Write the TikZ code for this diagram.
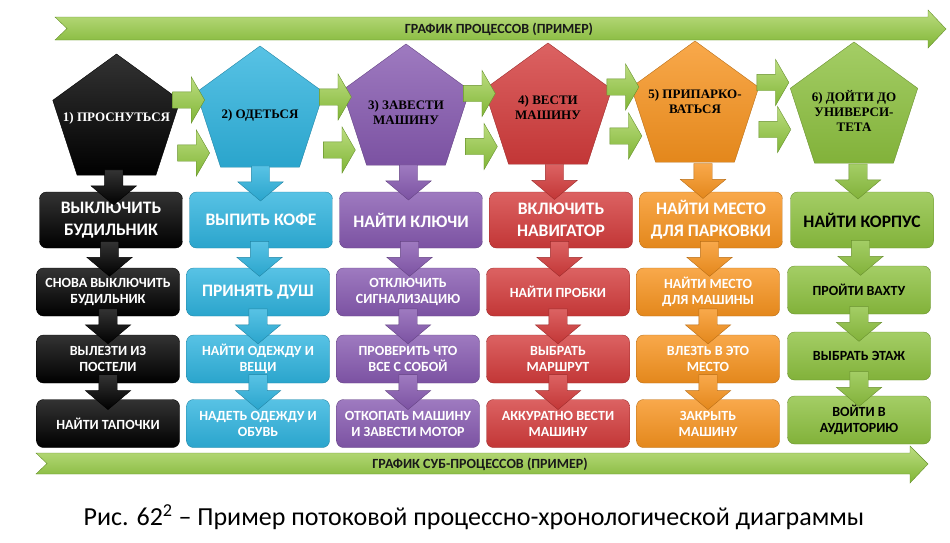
\documentclass[tikz,border=0pt]{standalone}
\usepackage{fontspec}
\setmainfont{Carlito}
\newfontfamily\pentafont{Liberation Serif}
\usetikzlibrary{shapes.geometric,shapes.arrows,calc}

\definecolor{cblk}{HTML}{000000}
\definecolor{cblu}{HTML}{2EB3DE}
\definecolor{cvio}{HTML}{8659B0}
\definecolor{cred}{HTML}{D33B3B}
\definecolor{corg}{HTML}{F7931E}
\definecolor{cgrn}{HTML}{8DC13F}
\definecolor{grnlt}{HTML}{BCDD80}
\definecolor{grndk}{HTML}{80B536}

\begin{document}
\begin{tikzpicture}[x=1pt,y=-1pt,
   penta/.style={regular polygon,regular polygon sides=5,minimum size=134pt,inner sep=0pt,
      top color=#1!80!white,bottom color=#1!92!black,draw=#1!75!black},
   ptext/.style={font=\pentafont\bfseries\fontsize{13}{15}\selectfont,align=center},
   box/.style={rounded corners=7pt,minimum width=143pt,minimum height=48pt,inner sep=1pt,
      top color=#1!80!white,bottom color=#1!92!black,draw=#1!75!black,text=white,
      font=\bfseries\fontsize{14}{16}\selectfont,align=center},
   big/.style={font=\bfseries\fontsize{17.5}{22}\selectfont},
   tall/.style={minimum height=56pt},
   darr/.style={single arrow,shape border rotate=270,minimum height=35pt,inner sep=9pt,
      single arrow head extend=13.5pt,single arrow tip angle=100,
      top color=#1!80!white,bottom color=#1!92!black,draw=#1!75!black},
   rarr/.style={single arrow,minimum height=32pt,inner sep=8pt,
      single arrow head extend=15pt,single arrow tip angle=120,
      top color=grnlt,bottom color=grndk,draw=grndk!80!black},
   band/.style={top color=grnlt,bottom color=grndk,draw=grndk!80!black},
   bandtext/.style={font=\bfseries\fontsize{14}{16}\selectfont,text=black!90}]
   \useasboundingbox (0,0) rectangle (950,542);

   % time bands
   \draw[band] (55,17) -- (928,17) -- (928,10) -- (946,29) -- (928,48) -- (928,40)
      -- (55,40) -- (67,28.5) -- cycle;
   \draw[band] (36,453) -- (910,453) -- (910,446) -- (928,464) -- (910,483) -- (910,474)
      -- (36,474) -- (47,463.5) -- cycle;
   \node[bandtext] (topband) at (499,29) {ГРАФИК ПРОЦЕССОВ (ПРИМЕР)};
   \node[bandtext] (subband) at (480,464) {ГРАФИК СУБ-ПРОЦЕССОВ (ПРИМЕР)};

   % processes
   \node[penta=cblk] (p1) at (116.5,121) {};
   \node[penta=cblu] (p2) at (260,113) {};
   \node[penta=cvio] (p3) at (406,111) {};
   \node[penta=cred] (p4) at (548,110) {};
   \node[penta=corg] (p5) at (695,108) {};
   \node[penta=cgrn] (p6) at (854,109) {};
   \node[ptext,text=white] (l1) at ($(p1)+(0,-3)$) {1) ПРОСНУТЬСЯ};
   \node[ptext] (l2) at ($(p2)+(0,2)$) {2) ОДЕТЬСЯ};
   \node[ptext] (l3) at ($(p3)+(0,2)$) {3) ЗАВЕСТИ\\МАШИНУ};
   \node[ptext] (l4) at ($(p4)+(0,-2)$) {4) ВЕСТИ\\МАШИНУ};
   \node[ptext] (l5) at ($(p5)+(0,-6)$) {5) ПРИПАРКО-\\ВАТЬСЯ};
   \node[ptext] (l6) at ($(p6)+(0,2)$) {6) ДОЙТИ ДО\\УНИВЕРСИ-\\ТЕТА};

   % sub-processes
   \node[box=cblk,big,tall] (s1a) at (111,220) {ВЫКЛЮЧИТЬ\\БУДИЛЬНИК};
   \node[box=cblk] (s1b) at (108,292) {СНОВА ВЫКЛЮЧИТЬ\\БУДИЛЬНИК};
   \node[box=cblk] (s1c) at (108,359) {ВЫЛЕЗТИ ИЗ\\ПОСТЕЛИ};
   \node[box=cblk] (s1d) at (108,423.5) {НАЙТИ ТАПОЧКИ};

   \node[box=cblu,big,tall] (s2a) at (261,220) {ВЫПИТЬ КОФЕ};
   \node[box=cblu,big] (s2b) at (258,292) {ПРИНЯТЬ ДУШ};
   \node[box=cblu] (s2c) at (258,359) {НАЙТИ ОДЕЖДУ И\\ВЕЩИ};
   \node[box=cblu] (s2d) at (258,423.5) {НАДЕТЬ ОДЕЖДУ И\\ОБУВЬ};

   \node[box=cvio,big,tall] (s3a) at (411,220) {НАЙТИ КЛЮЧИ};
   \node[box=cvio] (s3b) at (408,292) {ОТКЛЮЧИТЬ\\СИГНАЛИЗАЦИЮ};
   \node[box=cvio] (s3c) at (408,359) {ПРОВЕРИТЬ ЧТО\\ВСЕ С СОБОЙ};
   \node[box=cvio] (s3d) at (408,423.5) {ОТКОПАТЬ МАШИНУ\\И ЗАВЕСТИ МОТОР};

   \node[box=cred,big,tall] (s4a) at (561,220) {ВКЛЮЧИТЬ\\НАВИГАТОР};
   \node[box=cred] (s4b) at (558,292) {НАЙТИ ПРОБКИ};
   \node[box=cred] (s4c) at (558,359) {ВЫБРАТЬ\\МАРШРУТ};
   \node[box=cred] (s4d) at (558,423.5) {АККУРАТНО ВЕСТИ\\МАШИНУ};

   \node[box=corg,big,tall] (s5a) at (711,220) {НАЙТИ МЕСТО\\ДЛЯ ПАРКОВКИ};
   \node[box=corg] (s5b) at (708,292) {НАЙТИ МЕСТО\\ДЛЯ МАШИНЫ};
   \node[box=corg] (s5c) at (708,359) {ВЛЕЗТЬ В ЭТО\\МЕСТО};
   \node[box=corg] (s5d) at (708,423.5) {ЗАКРЫТЬ\\МАШИНУ};

   \node[box=cgrn,big,tall,text=black] (s6a) at (862,220) {НАЙТИ КОРПУС};
   \node[box=cgrn,text=black] (s6b) at (859,290) {ПРОЙТИ ВАХТУ};
   \node[box=cgrn,text=black] (s6c) at (859,356) {ВЫБРАТЬ ЭТАЖ};
   \node[box=cgrn,text=black] (s6d) at (859,420) {ВОЙТИ В\\АУДИТОРИЮ};

   % down arrows
   \node[darr=cblk] (d1a) at ($(p1.south)!.5!(s1a.north)$) {};
   \node[darr=cblk] (d1b) at ($(s1a.south)!.5!(s1b.north)+(0,-3)$) {};
   \node[darr=cblk] (d1c) at ($(s1b.south)!.5!(s1c.north)+(0,-3)$) {};
   \node[darr=cblk] (d1d) at ($(s1c.south)!.5!(s1d.north)+(0,-3)$) {};

   \node[darr=cblu] (d2a) at ($(p2.south)!.5!(s2a.north)$) {};
   \node[darr=cblu] (d2b) at ($(s2a.south)!.5!(s2b.north)+(0,-3)$) {};
   \node[darr=cblu] (d2c) at ($(s2b.south)!.5!(s2c.north)+(0,-3)$) {};
   \node[darr=cblu] (d2d) at ($(s2c.south)!.5!(s2d.north)+(0,-3)$) {};

   \node[darr=cvio] (d3a) at ($(p3.south)!.5!(s3a.north)$) {};
   \node[darr=cvio] (d3b) at ($(s3a.south)!.5!(s3b.north)+(0,-3)$) {};
   \node[darr=cvio] (d3c) at ($(s3b.south)!.5!(s3c.north)+(0,-3)$) {};
   \node[darr=cvio] (d3d) at ($(s3c.south)!.5!(s3d.north)+(0,-3)$) {};

   \node[darr=cred] (d4a) at ($(p4.south)!.5!(s4a.north)$) {};
   \node[darr=cred] (d4b) at ($(s4a.south)!.5!(s4b.north)+(0,-3)$) {};
   \node[darr=cred] (d4c) at ($(s4b.south)!.5!(s4c.north)+(0,-3)$) {};
   \node[darr=cred] (d4d) at ($(s4c.south)!.5!(s4d.north)+(0,-3)$) {};

   \node[darr=corg] (d5a) at ($(p5.south)!.5!(s5a.north)$) {};
   \node[darr=corg] (d5b) at ($(s5a.south)!.5!(s5b.north)+(0,-3)$) {};
   \node[darr=corg] (d5c) at ($(s5b.south)!.5!(s5c.north)+(0,-3)$) {};
   \node[darr=corg] (d5d) at ($(s5c.south)!.5!(s5d.north)+(0,-3)$) {};

   \node[darr=cgrn] (d6a) at ($(p6.south)!.5!(s6a.north)$) {};
   \node[darr=cgrn] (d6b) at ($(s6a.south)!.5!(s6b.north)+(0,-3)$) {};
   \node[darr=cgrn] (d6c) at ($(s6b.south)!.5!(s6c.north)+(0,-3)$) {};
   \node[darr=cgrn] (d6d) at ($(s6c.south)!.5!(s6d.north)+(0,-3)$) {};

   % right arrows
   \node[rarr] (r1u) at ($(p1)!.5!(p2)+(-2,-17)$) {};
   \node[rarr] (r1l) at ($(p1)!.5!(p2)+(3,36)$) {};
   \node[rarr] (r2u) at ($(p2)!.5!(p3)+(0,-15)$) {};
   \node[rarr] (r2l) at ($(p2)!.5!(p3)+(4,38)$) {};
   \node[rarr] (r3u) at ($(p3)!.5!(p4)+(0,-17)$) {};
   \node[rarr] (r3l) at ($(p3)!.5!(p4)+(2,36)$) {};
   \node[rarr] (r4u) at ($(p4)!.5!(p5)+(-1,-22)$) {};
   \node[rarr] (r4l) at ($(p4)!.5!(p5)+(2,27)$) {};
   \node[rarr] (r5u) at ($(p5)!.5!(p6)+(-4,-26)$) {};
   \node[rarr] (r5l) at ($(p5)!.5!(p6)+(-2,21)$) {};

   \node[font=\fontsize{26}{31}\selectfont] (caption) at (474,517)
      {Рис. 62\textsuperscript{2} – Пример потоковой процессно-хронологической диаграммы};
\end{tikzpicture}
\end{document}
